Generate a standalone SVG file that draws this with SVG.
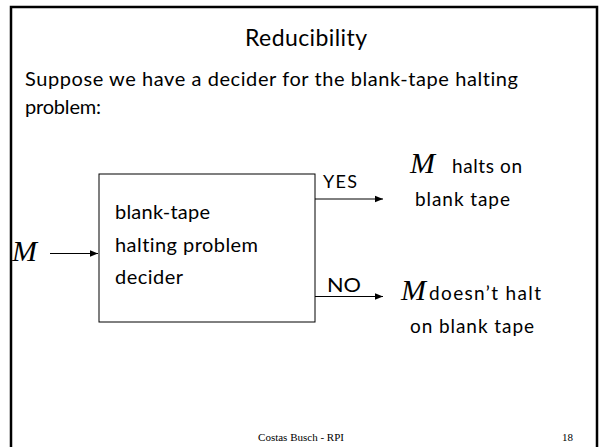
<svg xmlns="http://www.w3.org/2000/svg" width="602" height="447" viewBox="0 0 602 447">
<style>
.sans{font-family:Lato,"Liberation Sans",sans-serif;fill:#000;font-variant-ligatures:none}
.math{font-family:"Liberation Serif",serif;font-style:italic;fill:#000}
.foot{font-family:"Liberation Serif",serif;font-size:11px;fill:#000}
.ln{stroke:#000;stroke-width:1;fill:none}
</style>
<defs>
<marker id="ah" viewBox="0 0 10 10" refX="10" refY="5" markerWidth="8" markerHeight="8" markerUnits="userSpaceOnUse" orient="auto">
<path d="M0,1 L10,5 L0,9 Z" fill="#000"/>
</marker>
</defs>
<rect x="0" y="0" width="602" height="447" fill="#fff"/>
<path d="M11,460 V7 H597 V460" fill="none" stroke="#000" stroke-width="2.5"/>
<text class="sans" x="245" y="46" font-size="23" textLength="122">Reducibility</text>
<text class="sans" x="25" y="86" font-size="20" textLength="493">Suppose we have a decider for the blank-tape halting</text>
<text class="sans" x="25" y="114" font-size="20" textLength="76">problem:</text>
<g id="decider">
<rect x="99" y="174" width="216" height="148" fill="#fff" stroke="#000" stroke-width="1"/>
<text class="sans" x="115" y="219" font-size="20" textLength="95">blank-tape</text>
<text class="sans" x="115" y="251.5" font-size="20" textLength="143">halting problem</text>
<text class="sans" x="115" y="284" font-size="20" textLength="68">decider</text>
</g>
<g id="input">
<text class="math" x="12" y="261" font-size="30">M</text>
</g>
<g id="yes-out">
<text class="math" x="410" y="173" font-size="30">M</text>
<text class="sans" x="452" y="173" font-size="19" textLength="70">halts on</text>
<text class="sans" x="415" y="206" font-size="19" textLength="95">blank tape</text>
</g>
<g id="no-out">
<text class="math" x="401" y="300" font-size="30">M</text>
<text class="sans" x="429" y="300" font-size="19" textLength="112">doesn’t halt</text>
<text class="sans" x="410" y="333" font-size="19" textLength="124">on blank tape</text>
</g>
<g id="connectors">
<line class="ln" x1="50" y1="253.5" x2="98" y2="253.5" marker-end="url(#ah)"/>
<line class="ln" x1="315" y1="199" x2="383" y2="199" marker-end="url(#ah)"/>
<line class="ln" x1="315" y1="296.5" x2="383" y2="296.5" marker-end="url(#ah)"/>
<text class="sans" x="323" y="188" font-size="18" textLength="34">YES</text>
<text class="sans" x="327" y="291.5" font-size="19" textLength="34" lengthAdjust="spacingAndGlyphs">NO</text>
</g>
<text class="foot" x="301" y="441" text-anchor="middle">Costas Busch - RPI</text>
<text class="foot" x="573" y="441" text-anchor="end">18</text>
</svg>
